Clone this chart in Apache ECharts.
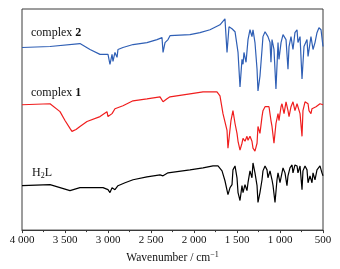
<!DOCTYPE html>
<html><head><meta charset="utf-8">
<script src="https://cdn.jsdelivr.net/npm/echarts@6/dist/echarts.min.js"></script>
<style>html,body{margin:0;padding:0;background:#fff}#c{width:340px;height:269px}</style>
</head><body><div id="c"></div>
<script>
var xTicks = [4000, 3500, 3000, 2500, 2000, 1500, 1000, 500];
var seriesNames = ['complex 2', 'complex 1', 'H2L'];
var wnC2 = [4000,3674,3326,3209,3093,3000,2977,2953,2942,2919,2895,2884,2826,2709,2547,2430,2372,2360,2337,2302,2279,2047,1930,1814,1698,1640,1616,1593,1558,1523,1488,1465,1442,1430,1419,1395,1372,1349,1326,1314,1291,1267,1256,1233,1209,1198,1174,1151,1140,1116,1105,1093,1070,1047,1023,1012,988,965,930,907,895,872,849,826,802,791,767,744,721,686,674,640,616,593,570,547,523,500];
var yC2 = [185,186,189,183,178,178,168,178,171,180,175,183,185,188,190,193,195,180,190,193,197,198,200,203,208,214,180,206,204,201,180,145,173,168,180,170,193,203,196,203,190,163,141,156,183,196,201,203,196,190,170,193,183,143,190,173,190,198,193,163,186,196,183,200,203,190,196,153,186,193,176,196,183,190,200,205,203,186];
var wnC1 = [4000,3674,3558,3500,3442,3419,3372,3326,3244,3093,3012,3000,2953,2919,2826,2709,2547,2395,2360,2314,2279,2047,1895,1733,1698,1663,1616,1605,1570,1547,1523,1500,1488,1465,1442,1430,1407,1384,1372,1349,1326,1314,1291,1267,1256,1233,1209,1198,1174,1151,1128,1105,1093,1070,1047,1023,1012,988,977,953,930,907,895,872,849,826,802,791,767,744,733,709,674,663,640,628,605,581,558,535,512,500];
var yC1 = [127,128,120,111,103,100,102,105,110,115,120,115,118,123,126,131,133,135,130,133,135,138,140,140,136,118,101,83,111,121,108,98,90,81,88,93,90,95,91,95,90,83,80,88,105,98,115,121,125,126,125,111,105,88,108,118,111,125,128,118,130,121,115,125,130,121,128,126,118,95,121,130,128,121,118,123,121,125,126,128,128,127];
var wnL = [4000,3674,3558,3442,3326,3209,3058,3000,2977,2953,2919,2884,2802,2709,2547,2395,2360,2302,2047,1895,1779,1721,1674,1640,1605,1581,1558,1547,1523,1500,1488,1465,1442,1430,1407,1384,1372,1349,1326,1314,1291,1267,1256,1233,1209,1198,1174,1151,1140,1116,1093,1081,1058,1035,1023,1000,977,965,942,919,907,884,860,849,826,802,791,767,744,733,709,686,674,651,628,616,593,570,558,535,512,500];
var yL = [45,46,43,40,43,43,43,41,38,43,41,45,48,51,54,56,55,58,61,63,65,65,60,50,36,43,46,61,65,53,38,30,45,38,46,40,48,60,53,68,58,45,28,38,51,60,65,61,53,60,51,45,28,51,58,48,58,63,58,45,55,63,66,58,66,65,58,65,41,60,65,61,48,55,48,58,51,61,63,65,58,55];

function pairs(a, b) { return a.map(function (w, i) { return [w, b[i]]; }); }
var font = '"Liberation Serif","DejaVu Serif",serif';
var chart = echarts.init(document.getElementById('c'), null, {renderer: 'canvas'});
chart.setOption({
  animation: false,
  grid: {left: 22, right: 17, top: 9, bottom: 36, show: true, borderColor: '#3a3a3a', borderWidth: 1, backgroundColor: 'transparent'},
  xAxis: {
    type: 'value', inverse: true, min: 500, max: 4000, interval: 500,
    axisLine: {show: true, lineStyle: {color: '#3a3a3a', width: 1}},
    axisTick: {show: true, inside: false, length: 3, lineStyle: {color: '#3a3a3a'}},
    minorTick: {show: true, splitNumber: 2, length: 2, lineStyle: {color: '#3a3a3a'}},
    splitLine: {show: false},
    axisLabel: {margin: 5, color: '#111', fontFamily: font, fontSize: 11,
      formatter: function (v) { return v >= 1000 ? Math.floor(v / 1000) + ' ' + String(v % 1000).padStart(3, '0') : String(v); }},
    name: 'Wavenumber / cm{sup|−1}', nameLocation: 'middle', nameGap: 19,
    nameTextStyle: {color: '#111', fontFamily: font, fontSize: 11.5,
      rich: {sup: {fontFamily: font, fontSize: 8, verticalAlign: 'top', padding: [0, 0, 6, 0], color: '#111'}}}
  },
  yAxis: {type: 'value', min: 0, max: 224, show: false},
  series: [
    {name: seriesNames[0], type: 'line', data: pairs(wnC2, yC2), showSymbol: false, lineStyle: {color: '#2f5fb5', width: 1.2}},
    {name: seriesNames[1], type: 'line', data: pairs(wnC1, yC1), showSymbol: false, lineStyle: {color: '#f01e1e', width: 1.2}},
    {name: seriesNames[2], type: 'line', data: pairs(wnL, yL), showSymbol: false, lineStyle: {color: '#000', width: 1.2}}
  ],
  graphic: [
    {type: 'text', left: 31, top: 27, style: {text: 'complex {b|2}', font: '12px ' + font, fill: '#111', rich: {b: {fontWeight: 'bold', fontFamily: font, fontSize: 12}}}},
    {type: 'text', left: 31, top: 87, style: {text: 'complex {b|1}', font: '12px ' + font, fill: '#111', rich: {b: {fontWeight: 'bold', fontFamily: font, fontSize: 12}}}},
    {type: 'text', left: 32, top: 167, style: {text: 'H{s|2}L', font: '12px ' + font, fill: '#111', rich: {s: {fontFamily: font, fontSize: 8, verticalAlign: 'bottom', padding: [6, 0, 0, 0]}}}}
  ]
});
</script></body></html>
